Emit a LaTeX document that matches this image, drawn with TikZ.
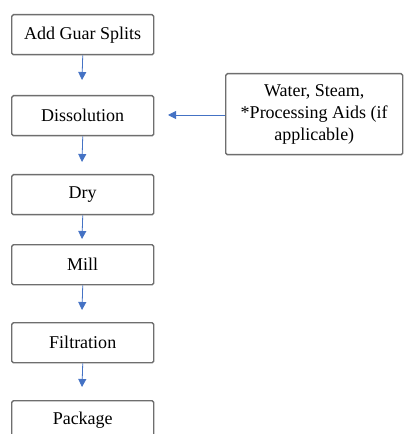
\documentclass[tikz,border=0pt]{standalone}
\usepackage{fontspec}
\setmainfont{Liberation Serif}
\usetikzlibrary{arrows.meta}
\definecolor{boxline}{RGB}{110,110,110}
\definecolor{arrowblue}{RGB}{68,114,196}
\tikzset{
  stepbox/.style={draw=boxline, line width=1.1pt, rounded corners=1.2pt, fill=white, anchor=north west, inner sep=0pt, align=center, font=\fontsize{13.5}{16.5}\selectfont},
  flow/.style={draw=arrowblue, line width=0.6pt, -{Triangle[length=6pt,width=6pt]}}
}
\begin{document}
\begin{tikzpicture}[x=0.75pt,y=-0.75pt]
\useasboundingbox (0,0) rectangle (403,434);
\node[stepbox, minimum width=142*0.75pt, minimum height=40*0.75pt] (a) at (11,14) {Add Guar Splits};
\node[stepbox, minimum width=142*0.75pt, minimum height=40*0.75pt] (b) at (11,95) {Dissolution};
\node[stepbox, minimum width=142*0.75pt, minimum height=40*0.75pt] (c) at (11,174) {Dry};
\node[stepbox, minimum width=142*0.75pt, minimum height=40*0.75pt] (d) at (11,244) {Mill};
\node[stepbox, minimum width=142*0.75pt, minimum height=40*0.75pt] (e) at (11,322) {Filtration};
\node[stepbox, minimum width=142*0.75pt, minimum height=40*0.75pt, text depth=0pt] (f) at (11,400) {\raisebox{4pt}{Package}};
\node[stepbox, minimum width=177*0.75pt, minimum height=81*0.75pt] (g) at (225,73) {Water, Steam,\\*Processing Aids (if\\applicable)};
\coordinate (ta) at (82,80);
\coordinate (tb) at (82,162);
\coordinate (tc) at (82,239);
\coordinate (td) at (82,310);
\coordinate (te) at (82,387);
\coordinate (tg) at (168,115);
\draw[flow] (a.south) -- (ta);
\draw[flow] (b.south) -- (tb);
\draw[flow] (c.south) -- (tc);
\draw[flow] (d.south) -- (td);
\draw[flow] (e.south) -- (te);
\draw[flow] (g.west |- tg) -- (tg);
\end{tikzpicture}
\end{document}
